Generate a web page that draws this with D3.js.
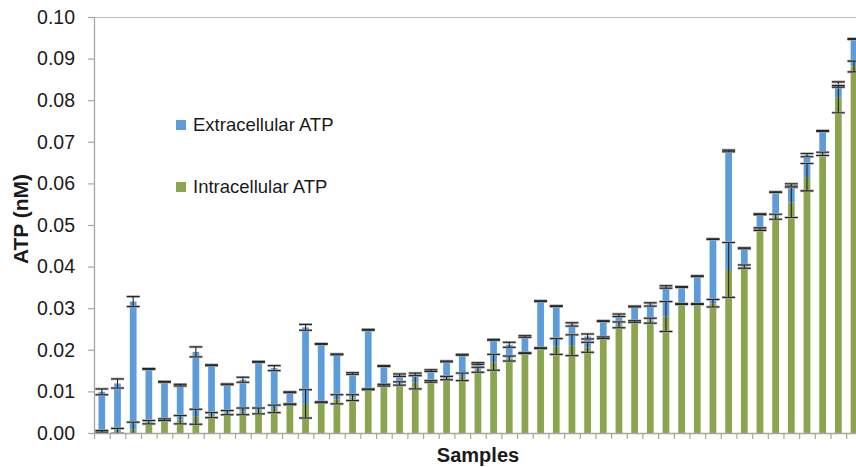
<!DOCTYPE html>
<html>
<head>
<meta charset="utf-8">
<script src="https://cdn.jsdelivr.net/npm/d3@7"></script>
<style>
  html, body { margin: 0; padding: 0; background: #fff; }
  svg { display: block; font-family: "Liberation Sans", Arial, sans-serif; }
</style>
</head>
<body>
<svg id="chart" width="856" height="467"></svg>
<script>
// Samples, ordered by intracellular ATP
const samples = ["S1","S2","S3","S4","S5","S6","S7","S8","S9","S10",
  "S11","S12","S13","S14","S15","S16","S17","S18","S19","S20",
  "S21","S22","S23","S24","S25","S26","S27","S28","S29","S30",
  "S31","S32","S33","S34","S35","S36","S37","S38","S39","S40",
  "S41","S42","S43","S44","S45","S46","S47","S48","S49"];

// Intracellular ATP (nM), bottom segment
const intracellular = [0.0004,0.0005,0.0008,0.0026,0.0032,0.0032,0.0039,0.0043,0.0049,0.0052,
  0.0053,0.0058,0.0069,0.0070,0.0074,0.0081,0.0085,0.0105,0.0115,0.0119,
  0.0122,0.0124,0.0132,0.0135,0.0152,0.0170,0.0179,0.0192,0.0204,0.0208,
  0.0211,0.0206,0.0229,0.0260,0.0268,0.0270,0.0280,0.0310,0.0310,0.0312,
  0.0392,0.0400,0.0490,0.0520,0.0554,0.0615,0.0671,0.0807,0.0881];

// Extracellular ATP (nM), stacked on top
const extracellular = [0.0095,0.0114,0.0308,0.0128,0.0091,0.0083,0.0156,0.0120,0.0068,0.0076,
  0.0118,0.0098,0.0029,0.0184,0.0140,0.0108,0.0058,0.0143,0.0046,0.0020,
  0.0019,0.0026,0.0040,0.0053,0.0015,0.0054,0.0033,0.0040,0.0113,0.0097,
  0.0050,0.0026,0.0040,0.0023,0.0036,0.0039,0.0071,0.0041,0.0067,0.0154,
  0.0286,0.0044,0.0036,0.0059,0.0042,0.0053,0.0055,0.0026,0.0066];

// Error (±) of each series
const intracellularErr = [0.0002,0.0006,0.0018,0.0004,0.0002,0.0010,0.0018,0.0006,0.0005,0.0008,
  0.0007,0.0009,0.0001,0.0034,0.0001,0.0011,0.0007,0.0001,0.0002,0.0004,
  0.0016,0.0002,0.0004,0.0009,0.0006,0.0019,0.0006,0.0001,0.0001,0.0019,
  0.0025,0.0012,0.0002,0.0007,0.0002,0.0006,0.0036,0.0001,0.0001,0.0009,
  0.0066,0.0004,0.0003,0.0006,0.0036,0.0033,0.0004,0.0037,0.0013];

const extracellularErr = [0.0007,0.0011,0.0012,0.0001,0.0001,0.0002,0.0012,0.0001,0.0001,0.0006,
  0.0001,0.0006,0.0001,0.0007,0.0001,0.0001,0.0002,0.0001,0.0001,0.0003,
  0.0003,0.0002,0.0001,0.0001,0.0002,0.0001,0.0006,0.0002,0.0001,0.0001,
  0.0004,0.0006,0.0001,0.0003,0.0001,0.0004,0.0003,0.0001,0.0001,0.0001,
  0.0002,0.0001,0.0001,0.0001,0.0003,0.0004,0.0001,0.0002,0.0001];

const yTicks = [0.00,0.01,0.02,0.03,0.04,0.05,0.06,0.07,0.08,0.09,0.10];
const yTickLabels = ["0.00","0.01","0.02","0.03","0.04","0.05","0.06","0.07","0.08","0.09","0.10"];

const seriesNames = ["Extracellular ATP", "Intracellular ATP"];
const colors = { intra: "#8ba54f", extra: "#5d9cdb" };

(function draw() {
  // Layout
  const plotLeft = 94, plotTop = 17, plotBottom = 433;
  const step = 15.67;
  const plotRight = plotLeft + step * samples.length;

  const svg = d3.select("#chart");

  // error bars stay inside the plot area
  svg.append("defs").append("clipPath").attr("id", "plot-clip")
    .append("rect")
    .attr("x", plotLeft).attr("y", plotTop - 2)
    .attr("width", plotRight - plotLeft).attr("height", plotBottom - plotTop + 2);

  const x = d3.scaleBand()
    .domain(samples)
    .range([plotLeft, plotRight])
    .paddingInner(0.57)
    .paddingOuter(0.285);

  const y = d3.scaleLinear().domain([0, 0.10]).range([plotBottom, plotTop]);

  const rows = samples.map((s, i) => ({
    s,
    intra: intracellular[i],
    extra: extracellular[i],
    intraErr: intracellularErr[i],
    extraErr: extracellularErr[i]
  }));

  const layers = d3.stack().keys(["intra", "extra"])(rows);

  // top border of plot area
  svg.append("line")
    .attr("x1", plotLeft).attr("x2", plotRight)
    .attr("y1", plotTop + 0.5).attr("y2", plotTop + 0.5)
    .attr("stroke", "#bdbdbd").attr("stroke-width", 1.2);

  // bars
  svg.append("g").selectAll("g")
    .data(layers)
    .join("g")
    .attr("fill", d => colors[d.key])
    .selectAll("rect")
    .data(d => d)
    .join("rect")
    .attr("x", d => x(d.data.s))
    .attr("width", x.bandwidth())
    .attr("y", d => y(d[1]))
    .attr("height", d => y(d[0]) - y(d[1]));

  // error bars at each segment's top
  const errGroup = svg.append("g").attr("clip-path", "url(#plot-clip)");
  const capW = 6.5;
  layers.forEach(layer => {
    const errKey = layer.key === "intra" ? "intraErr" : "extraErr";
    layer.forEach(d => {
      const cx = x(d.data.s) + x.bandwidth() / 2;
      const v = d[1], e = d.data[errKey];
      const y1 = y(v + e), y2 = y(v - e);
      const g = errGroup.append("g");
      [y1, y2].forEach(yy => {
        g.append("line")
          .attr("x1", cx - capW).attr("x2", cx + capW)
          .attr("y1", yy).attr("y2", yy)
          .attr("stroke", "#a8a8a8").attr("stroke-width", 2.6);
      });
      g.append("line")
        .attr("x1", cx).attr("x2", cx)
        .attr("y1", y1).attr("y2", y2)
        .attr("stroke", "#262626").attr("stroke-width", 1.1);
      [y1, y2].forEach(yy => {
        g.append("line")
          .attr("x1", cx - capW).attr("x2", cx + capW)
          .attr("y1", yy).attr("y2", yy)
          .attr("stroke", "#262626").attr("stroke-width", 1.1);
      });
    });
  });

  // y axis
  const yAxis = d3.axisLeft(y)
    .tickValues(yTicks)
    .tickFormat((d, i) => yTickLabels[i])
    .tickSizeInner(6).tickSizeOuter(0)
    .tickPadding(13);

  const yg = svg.append("g").attr("transform", `translate(${plotLeft},0)`).call(yAxis);
  yg.select(".domain").attr("stroke", "#a6a6a6").attr("stroke-width", 1.3);
  yg.selectAll(".tick line").attr("stroke", "#a6a6a6").attr("stroke-width", 1.2);
  yg.selectAll(".tick text")
    .attr("font-size", 19.5)
    .attr("font-family", "'Liberation Sans', Arial, sans-serif")
    .attr("fill", "#1a1a1a");

  // x axis with category separators
  const xIdx = d3.scaleLinear().domain([0, samples.length]).range([plotLeft, plotRight]);
  const xAxis = d3.axisBottom(xIdx)
    .tickValues(d3.range(samples.length + 1))
    .tickFormat("")
    .tickSizeInner(6).tickSizeOuter(0);
  const xg = svg.append("g").attr("transform", `translate(0,${plotBottom})`).call(xAxis);
  xg.select(".domain").attr("stroke", "#a6a6a6").attr("stroke-width", 1.3);
  xg.selectAll(".tick line").attr("stroke", "#a6a6a6").attr("stroke-width", 1.2);

  // axis titles
  svg.append("text")
    .attr("x", 478).attr("y", 462)
    .attr("text-anchor", "middle")
    .attr("font-size", 20).attr("font-weight", "bold")
    .attr("fill", "#1a1a1a")
    .text("Samples");

  svg.append("text")
    .attr("transform", "translate(28,219) rotate(-90)")
    .attr("text-anchor", "middle")
    .attr("font-size", 21).attr("font-weight", "bold")
    .attr("fill", "#1a1a1a")
    .text("ATP (nM)");

  // legend
  const legend = svg.append("g");
  const legendItems = [
    { name: seriesNames[0], color: colors.extra, y: 131 },
    { name: seriesNames[1], color: colors.intra, y: 193 }
  ];
  legendItems.forEach(it => {
    legend.append("rect")
      .attr("x", 176).attr("y", it.y - 11)
      .attr("width", 10).attr("height", 10)
      .attr("fill", it.color);
    legend.append("text")
      .attr("x", 193).attr("y", it.y)
      .attr("font-size", 18.5)
      .attr("fill", "#1a1a1a")
      .text(it.name);
  });
})();
</script>
</body>
</html>
